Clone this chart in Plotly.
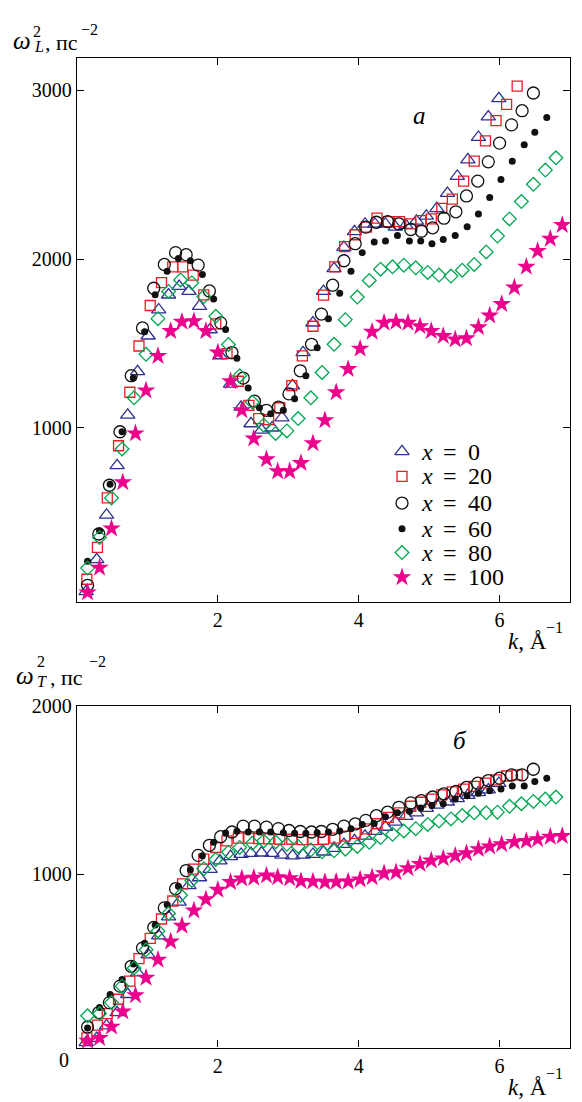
import plotly.graph_objects as go

W, H = 582, 1102

# ---------------- data ----------------
k_0 = [0.13, 0.28, 0.42, 0.57, 0.72, 0.86, 1.01, 1.16, 1.30, 1.45, 1.59, 1.74, 1.89, 2.03, 2.18, 2.33, 2.47,
       2.62, 2.77, 2.91, 3.06, 3.21, 3.35, 3.50, 3.65, 3.79, 3.94, 4.09, 4.23, 4.38, 4.52, 4.67, 4.82, 4.96,
       5.11, 5.26, 5.40, 5.55, 5.70, 5.84, 5.99]
wL_0 = [30, 220, 484, 777, 1076, 1334, 1545, 1700, 1788, 1839, 1809, 1721, 1582, 1428, 1260, 1123, 1025, 987,
        1000, 1060, 1250, 1446, 1622, 1809, 1944, 2070, 2163, 2208, 2208, 2208, 2190, 2200, 2225, 2255, 2300,
        2390, 2491, 2589, 2722, 2843, 2951]
wT_0 = [0, 25, 100, 178, 286, 414, 522, 635, 747, 835, 933, 980, 1030, 1080, 1106, 1119, 1125, 1127, 1125, 1115,
        1110, 1115, 1119, 1133, 1155, 1178, 1200, 1227, 1255, 1280, 1310, 1345, 1365, 1392, 1412, 1430, 1450,
        1470, 1486, 1502, 1541]

k_20 = [0.14, 0.29, 0.43, 0.59, 0.75, 0.88, 1.04, 1.20, 1.36, 1.50, 1.65, 1.80, 1.97, 2.13, 2.29, 2.44, 2.58,
        2.72, 2.88, 3.05, 3.20, 3.35, 3.50, 3.66, 3.80, 3.95, 4.11, 4.26, 4.42, 4.58, 4.74, 4.88, 5.03, 5.18,
        5.33, 5.49, 5.64, 5.80, 5.95, 6.10, 6.25]
wL_20 = [103, 292, 585, 894, 1211, 1485, 1725, 1860, 1954, 1954, 1905, 1788, 1616, 1440, 1276, 1133, 1055, 1049,
         1119, 1250, 1426, 1602, 1786, 1954, 2074, 2144, 2189, 2242, 2222, 2222, 2208, 2228, 2238, 2300, 2355,
         2462, 2580, 2700, 2820, 2916, 3025]
wT_20 = [28, 103, 172, 257, 365, 498, 619, 734, 841, 943, 1031, 1090, 1159, 1198, 1215, 1215, 1212, 1210, 1208,
         1208, 1206, 1206, 1208, 1215, 1227, 1243, 1270, 1300, 1338, 1365, 1404, 1428, 1447, 1472, 1490, 1506,
         1522, 1541, 1561, 1584, 1590]

k_40 = [0.15, 0.31, 0.46, 0.61, 0.77, 0.93, 1.09, 1.24, 1.40, 1.55, 1.72, 1.88, 2.04, 2.20, 2.36, 2.52, 2.69,
        2.86, 3.01, 3.17, 3.33, 3.47, 3.63, 3.79, 3.95, 4.10, 4.25, 4.41, 4.57, 4.74, 4.89, 5.05, 5.21, 5.38,
        5.53, 5.69, 5.84, 6.00, 6.17, 6.32, 6.48]
wL_40 = [67, 371, 660, 977, 1309, 1592, 1827, 1968, 2038, 2026, 1964, 1811, 1622, 1446, 1295, 1158, 1104, 1123,
         1201, 1338, 1495, 1674, 1845, 1990, 2091, 2189, 2218, 2222, 2208, 2175, 2165, 2185, 2242, 2280, 2374,
         2462, 2576, 2687, 2795, 2879, 2984]
wT_40 = [92, 178, 237, 335, 453, 561, 684, 800, 914, 1022, 1112, 1172, 1223, 1251, 1286, 1286, 1280, 1271, 1260,
         1254, 1251, 1254, 1267, 1286, 1299, 1320, 1348, 1369, 1398, 1424, 1437, 1459, 1478, 1492, 1516, 1541,
         1557, 1571, 1590, 1590, 1624]

k_60 = [0.15, 0.32, 0.47, 0.64, 0.80, 0.96, 1.11, 1.28, 1.44, 1.61, 1.78, 1.94, 2.11, 2.27, 2.43, 2.59, 2.75,
        2.93, 3.09, 3.25, 3.41, 3.57, 3.73, 3.89, 4.05, 4.22, 4.38, 4.55, 4.72, 4.88, 5.04, 5.20, 5.37, 5.54,
        5.70, 5.86, 6.02, 6.18, 6.35, 6.50, 6.67]
wL_60 = [210, 390, 666, 977, 1295, 1569, 1788, 1928, 2003, 1990, 1909, 1764, 1582, 1412, 1236, 1119, 1084, 1104,
         1172, 1309, 1475, 1647, 1798, 1928, 2038, 2101, 2107, 2140, 2107, 2107, 2091, 2116, 2140, 2192, 2267,
         2365, 2472, 2580, 2677, 2752, 2838]
wT_60 = [86, 208, 286, 375, 466, 590, 698, 819, 929, 1027, 1110, 1190, 1245, 1255, 1251, 1251, 1251, 1247, 1243,
         1243, 1247, 1251, 1257, 1271, 1296, 1302, 1341, 1365, 1375, 1394, 1408, 1419, 1447, 1466, 1482, 1496,
         1506, 1525, 1525, 1551, 1571]

k_80 = [0.15, 0.32, 0.49, 0.64, 0.81, 0.98, 1.15, 1.30, 1.47, 1.63, 1.80, 1.97, 2.15, 2.31, 2.49, 2.65, 2.82,
        2.98, 3.14, 3.32, 3.48, 3.65, 3.81, 3.98, 4.15, 4.31, 4.48, 4.64, 4.81, 4.98, 5.14, 5.31, 5.47, 5.64,
        5.81, 5.97, 6.14, 6.31, 6.48, 6.65, 6.80]
wL_80 = [169, 351, 585, 875, 1178, 1436, 1647, 1808, 1876, 1860, 1778, 1661, 1494, 1309, 1152, 1016, 967, 982,
         1055, 1178, 1328, 1495, 1641, 1775, 1873, 1940, 1954, 1964, 1948, 1921, 1905, 1899, 1934, 1968, 2042,
         2136, 2238, 2341, 2443, 2527, 2600]
wT_80 = [159, 172, 237, 335, 443, 551, 663, 767, 875, 963, 1033, 1088, 1131, 1159, 1184, 1198, 1192, 1178, 1165,
         1145, 1133, 1139, 1149, 1165, 1190, 1218, 1237, 1257, 1271, 1296, 1316, 1329, 1349, 1365, 1365, 1369,
         1404, 1419, 1433, 1447, 1459]

k_100 = [0.15, 0.32, 0.49, 0.65, 0.83, 0.98, 1.15, 1.33, 1.49, 1.66, 1.83, 2.00, 2.18, 2.34, 2.51, 2.69, 2.85,
         3.02, 3.18, 3.35, 3.52, 3.68, 3.85, 4.02, 4.19, 4.36, 4.53, 4.70, 4.87, 5.03, 5.20, 5.37, 5.53, 5.70,
         5.86, 6.03, 6.21, 6.38, 6.54, 6.72, 6.89]
wL_100 = [25, 171, 404, 677, 967, 1221, 1426, 1573, 1628, 1632, 1573, 1446, 1276, 1104, 937, 814, 742, 742, 791,
          908, 1045, 1211, 1348, 1469, 1569, 1622, 1628, 1622, 1602, 1573, 1544, 1524, 1530, 1596, 1665, 1733,
          1831, 1954, 2048, 2120, 2202]
wT_100 = [10, 27, 94, 184, 281, 384, 492, 600, 694, 784, 851, 907, 953, 974, 979, 992, 982, 976, 960, 957, 953,
          955, 957, 969, 982, 1005, 1012, 1035, 1061, 1081, 1094, 1110, 1125, 1149, 1165, 1178, 1192, 1198, 1208,
          1222, 1227]

x_labels = ["0", "20", "40", "60", "80", "100"]
x_ticks = [2, 4, 6]
yL_ticks = [1000, 2000, 3000]
yT_ticks = [1000, 2000]

# ---------------- styles ----------------
FONT = "Liberation Serif"
BLUE, RED, BLACK, GREEN, MAG = "#2e3192", "#ed1c24", "#111111", "#00a651", "#ec008c"
styles = [
    dict(symbol="triangle-up-open", color=BLUE, size=12.5, line=dict(color=BLUE, width=1.3)),
    dict(symbol="square-open", color=RED, size=10, line=dict(color=RED, width=1.3)),
    dict(symbol="circle-open", color=BLACK, size=12, line=dict(color=BLACK, width=1.3)),
    dict(symbol="circle", color=BLACK, size=7, line=dict(width=0)),
    dict(symbol="diamond-open", color=GREEN, size=10.5, line=dict(color=GREEN, width=1.3)),
    dict(symbol="star", color=MAG, size=14, line=dict(width=0)),
]
ks = [k_0, k_20, k_40, k_60, k_80, k_100]
wLs = [wL_0, wL_20, wL_40, wL_60, wL_80, wL_100]
wTs = [wT_0, wT_20, wT_40, wT_60, wT_80, wT_100]

fig = go.Figure()
for k, wl, wt, st, lab in zip(ks, wLs, wTs, styles, x_labels):
    fig.add_trace(go.Scatter(x=k, y=wl, mode="markers", marker=st, xaxis="x", yaxis="y",
                             showlegend=False, name="x = " + lab, cliponaxis=False))
    fig.add_trace(go.Scatter(x=k, y=wt, mode="markers", marker=st, xaxis="x2", yaxis="y2",
                             showlegend=False, name="x = " + lab, cliponaxis=False))

# manual legend drawn on a pixel-unit overlay axis
leg_x = 402
leg_y = [445, 470, 497, 523, 547, 572]
for yy, st in zip(leg_y, styles):
    fig.add_trace(go.Scatter(x=[leg_x], y=[yy], mode="markers", marker=st, xaxis="x3", yaxis="y3",
                             showlegend=False, hoverinfo="skip"))


def px(x):
    return x / W


def py(y):
    return 1 - y / H


ann = []


def text(x, y, t, size, xanchor="center", italic=False):
    if italic:
        t = "<i>" + t + "</i>"
    ann.append(dict(x=px(x), y=py(y), xref="paper", yref="paper", text=t, showarrow=False,
                    xanchor=xanchor, yanchor="middle", font=dict(size=size, family=FONT, color="black")))


for yy, lab in zip(leg_y, x_labels):
    text(427, yy, "x", 24, italic=True)
    text(449.5, yy, "=", 24)
    text(465.5, yy, lab, 24, xanchor="left")

# axis titles (top panel)
text(22, 30, "ω", 25, italic=True)
text(37, 21, "2", 16)
text(38.5, 36, "L", 16, italic=True)
text(43, 32, ", пс", 22, xanchor="left")
text(79, 19, "−2", 16, xanchor="left")
# axis titles (bottom panel)
text(25, 671, "ω", 25, italic=True)
text(41, 657, "2", 16)
text(42, 677, "T", 16, italic=True)
text(48, 673, ", пс", 22, xanchor="left")
text(87, 657, "−2", 16, xanchor="left")
# k axis titles
for off in (0, 450):
    text(506, 637 + off, "<i>k</i>, Å", 23, xanchor="left")
    text(544, 623 + off, "−1", 16, xanchor="left")
# panel letters
text(419, 106, "a", 25, italic=True)
text(460, 737, "б", 25, italic=True)
# zero label at the lower-left corner of the bottom panel
text(64, 1060, "0", 20)

axis_common = dict(showline=True, linecolor="black", linewidth=1.4, mirror="ticks", ticks="inside",
                   ticklen=7, tickwidth=1.3, tickcolor="black", showgrid=False, zeroline=False,
                   tickfont=dict(family=FONT, size=20, color="black"), fixedrange=True)
xdom = [77 / W, 570 / W]
fig.update_layout(
    width=W, height=H, margin=dict(l=0, r=0, t=0, b=0),
    paper_bgcolor="white", plot_bgcolor="rgba(0,0,0,0)", showlegend=False,
    font=dict(family=FONT, color="black"),
    xaxis=dict(domain=xdom, range=[0, 7], tickvals=x_ticks, anchor="y", **axis_common),
    yaxis=dict(domain=[1 - 597 / H, 1 - 47 / H], range=[-32, 3194], tickvals=yL_ticks, anchor="x",
               **axis_common),
    xaxis2=dict(domain=xdom, range=[0, 7], tickvals=x_ticks, anchor="y2", **axis_common),
    yaxis2=dict(domain=[1 - 1047 / H, 1 - 702 / H], range=[-30, 2000], tickvals=yT_ticks, anchor="x2",
                **axis_common),
    xaxis3=dict(domain=[0, 1], range=[0, W], visible=False, anchor="y3", fixedrange=True),
    yaxis3=dict(domain=[0, 1], range=[H, 0], visible=False, anchor="x3", fixedrange=True),
    annotations=ann,
)

fig.write_html("out.html")
